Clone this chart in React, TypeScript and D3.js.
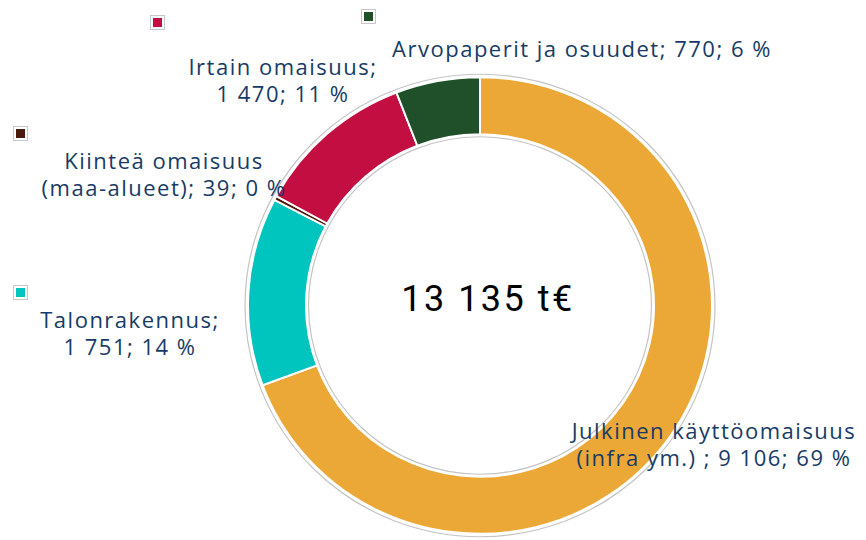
import React, { useEffect, useRef } from 'react';
import * as d3 from 'd3';

// Data
const categories = [
  'Julkinen käyttöomaisuus (infra ym.)',
  'Talonrakennus',
  'Kiinteä omaisuus (maa-alueet)',
  'Irtain omaisuus',
  'Arvopaperit ja osuudet',
];
const values = [9106, 1751, 39, 1470, 770];
const percents = [69, 14, 0, 11, 6];
const colors = ['#EBA836', '#00C4BE', '#4A1A0C', '#C20E40', '#20502A'];
const labelLines = [
  ['Julkinen käyttöomaisuus', '(infra ym.) ; 9 106; 69 %'],
  ['Talonrakennus;', '1 751; 14 %'],
  ['Kiinteä omaisuus', '(maa-alueet); 39; 0 %'],
  ['Irtain omaisuus;', '1 470; 11 %'],
  ['Arvopaperit ja osuudet; 770; 6 %'],
];
const totalLabel = '13 135 t€';

// Layout of the data labels (centre x, first baseline y) and legend keys
const labelLayout = [
  { x: 714, y: 439 },
  { x: 130, y: 328 },
  { x: 164, y: 169 },
  { x: 283, y: 75 },
  { x: 582, y: 57 },
];
const keyLayout = [
  null,
  { x: 13, y: 285 },
  { x: 13, y: 126 },
  { x: 150, y: 15 },
  { x: 361, y: 9 },
];

const W = 866;
const H = 540;

const App: React.FC = () => {
  const svgRef = useRef<SVGSVGElement>(null);

  useEffect(() => {
    if (!svgRef.current) return;
    const svg = d3.select(svgRef.current);
    svg.selectAll('*').remove();

    const cx = 480;
    const cy = 305.5;
    const outerR = 232;
    const innerR = 174;

    const pie = d3.pie<number>().sort(null).value(d => d);
    const arcs = pie(values);
    const arc = d3.arc<d3.PieArcDatum<number>>().innerRadius(innerR).outerRadius(outerR);

    const g = svg.append('g').attr('transform', `translate(${cx},${cy}) scale(1,0.984)`);

    // faint outlines around the ring
    g.append('circle')
      .attr('r', outerR + 3)
      .style('fill', 'none')
      .style('stroke', '#c4c4c4')
      .style('stroke-width', 1.2);
    g.append('circle')
      .attr('r', innerR - 2.5)
      .style('fill', 'none')
      .style('stroke', '#c4c4c4')
      .style('stroke-width', 1.2);

    g.selectAll('path.slice')
      .data(arcs)
      .enter()
      .append('path')
      .attr('class', 'slice')
      .attr('d', arc as any)
      .style('fill', (_d, i) => colors[i])
      .style('stroke', '#ffffff')
      .style('stroke-width', 2);

    // centre total
    svg.append('text')
      .attr('x', 488)
      .attr('y', 311)
      .style('text-anchor', 'middle')
      .style('font-family', 'Roboto, sans-serif')
      .style('font-size', '36px')
      .style('letter-spacing', '2.5px')
      .style('fill', '#000000')
      .text(totalLabel);

    // data labels, one text per line
    categories.forEach((_c, i) => {
      const pos = labelLayout[i];
      labelLines[i].forEach((line, j) => {
        svg.append('text')
          .attr('x', pos.x)
          .attr('y', pos.y + j * 27)
          .style('text-anchor', 'middle')
          .style('font-family', '"Open Sans", sans-serif')
          .style('font-size', '22px')
          .style('letter-spacing', '1.5px')
          .style('fill', '#173B66')
          .text(line);
      });

      const k = keyLayout[i];
      if (k) {
        svg.append('rect')
          .attr('x', k.x + 0.5)
          .attr('y', k.y + 0.5)
          .attr('width', 14)
          .attr('height', 14)
          .style('fill', '#ffffff')
          .style('stroke', '#c8c8c8')
          .style('stroke-width', 1);
        svg.append('rect')
          .attr('x', k.x + 3)
          .attr('y', k.y + 3)
          .attr('width', 9)
          .attr('height', 9)
          .style('fill', colors[i]);
      }
    });
  }, []);

  return (
    <svg
      ref={svgRef}
      width={W}
      height={H}
      style={{ position: 'absolute', left: 0, top: 0, background: '#ffffff' }}
    />
  );
};

export default App;
